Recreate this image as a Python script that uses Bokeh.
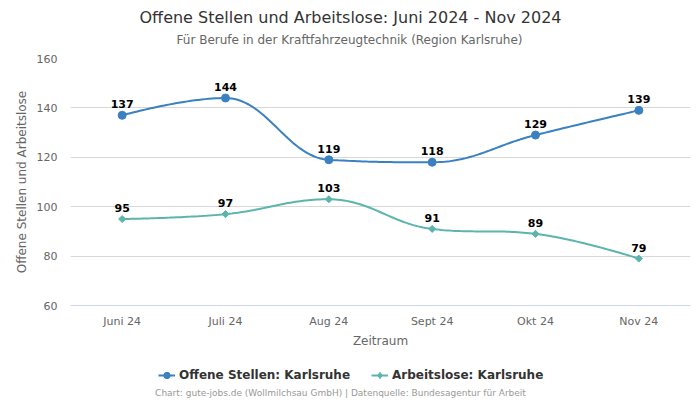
import numpy as np
from bokeh.plotting import figure
from bokeh.layouts import column
from bokeh.models import (ColumnDataSource, LabelSet, Label, Legend, LegendItem,
                          FixedTicker, Range1d)
from bokeh.core.properties import value
from bokeh.embed import file_html
from bokeh.resources import INLINE

# ---- data ----
months = ["Juni 24", "Juli 24", "Aug 24", "Sept 24", "Okt 24", "Nov 24"]
offene_stellen = [137, 144, 119, 118, 129, 139]
arbeitslose = [95, 97, 103, 91, 89, 79]
y_ticks = [60, 80, 100, 120, 140, 160]

title_text = "Offene Stellen und Arbeitslose: Juni 2024 - Nov 2024"
subtitle_text = "Für Berufe in der Kraftfahrzeugtechnik (Region Karlsruhe)"
footer_text = "Chart: gute-jobs.de (Wollmilchsau GmbH) | Datenquelle: Bundesagentur für Arbeit"
series_names = ["Offene Stellen: Karlsruhe", "Arbeitslose: Karlsruhe"]

FONT = "DejaVu Sans"
BLUE = "#3a81c1"
TEAL = "#5bb5ad"
W = 700
FRAME_LEFT = 70   # all frames in the column are aligned to this left edge


def spline_path(xs, ys, smoothing=1.5, n=40):
    """Highcharts-like spline through the points, sampled as a polyline."""
    N = len(xs)
    lc = [None] * N
    rc = [None] * N
    d = smoothing + 1
    for i in range(1, N - 1):
        px, py = xs[i], ys[i]
        lx, ly = xs[i - 1], ys[i - 1]
        nx, ny = xs[i + 1], ys[i + 1]
        lcx = (smoothing * px + lx) / d
        lcy = (smoothing * py + ly) / d
        rcx = (smoothing * px + nx) / d
        rcy = (smoothing * py + ny) / d
        corr = 0.0
        if rcx != lcx:
            corr = ((rcy - lcy) * (rcx - px)) / (rcx - lcx) + py - rcy
        lcy += corr
        rcy += corr
        if lcy > ly and lcy > py:
            lcy = max(ly, py); rcy = 2 * py - lcy
        elif lcy < ly and lcy < py:
            lcy = min(ly, py); rcy = 2 * py - lcy
        if rcy > ny and rcy > py:
            rcy = max(ny, py); lcy = 2 * py - rcy
        elif rcy < ny and rcy < py:
            rcy = min(ny, py); lcy = 2 * py - rcy
        lc[i] = (lcx, lcy)
        rc[i] = (rcx, rcy)
    X, Y = [xs[0]], [ys[0]]
    t = np.linspace(0, 1, n)[1:]
    for i in range(1, N):
        p0 = (xs[i - 1], ys[i - 1])
        p1 = rc[i - 1] if rc[i - 1] else p0
        p3 = (xs[i], ys[i])
        p2 = lc[i] if lc[i] else p3
        for k in range(2):
            v = ((1 - t) ** 3 * p0[k] + 3 * (1 - t) ** 2 * t * p1[k]
                 + 3 * (1 - t) * t ** 2 * p2[k] + t ** 3 * p3[k])
            (X if k == 0 else Y).extend(v.tolist())
    return X, Y


def blank_figure(height):
    f = figure(width=W, height=height, output_backend="svg",
               toolbar_location=None, x_axis_type=None, y_axis_type=None,
               x_range=Range1d(-2, -1), y_range=Range1d(-2, -1),
               min_border=0, min_border_left=0, min_border_right=0,
               min_border_top=0, min_border_bottom=0)
    f.title.visible = False
    f.outline_line_color = None
    f.background_fill_color = "white"
    f.border_fill_color = "white"
    f.grid.visible = False
    return f


# ---------- header (title + subtitle) ----------
head = blank_figure(48)
head.add_layout(Label(x=350 - FRAME_LEFT, y=31, x_units="screen", y_units="screen",
                      text=title_text, text_align="center",
                      text_baseline="middle", text_font=FONT,
                      text_font_size="16px", text_color="#333333"))
head.add_layout(Label(x=349 - FRAME_LEFT, y=9, x_units="screen", y_units="screen",
                      text=subtitle_text, text_align="center",
                      text_baseline="middle", text_font=FONT,
                      text_font_size="12px", text_color="#666666"))

# ---------- main chart ----------
xs = list(range(len(months)))
p = figure(width=W, height=302, output_backend="svg", toolbar_location=None,
           x_range=Range1d(-0.5, len(months) - 0.5),
           y_range=Range1d(y_ticks[0], y_ticks[-1]),
           min_border_left=FRAME_LEFT, min_border_right=10, min_border_top=10,
           min_border_bottom=45)
p.title.visible = False
p.outline_line_color = None
p.background_fill_color = "white"
p.border_fill_color = "white"

p.xaxis.ticker = FixedTicker(ticks=xs)
p.xaxis.major_label_overrides = {i: m for i, m in enumerate(months)}
p.yaxis.ticker = FixedTicker(ticks=y_ticks)
for ax in (p.xaxis[0], p.yaxis[0]):
    ax.major_tick_line_color = None
    ax.minor_tick_line_color = None
    ax.major_tick_out = 0
    ax.major_tick_in = 0
    ax.minor_tick_out = 0
    ax.minor_tick_in = 0
    ax.major_label_text_font = FONT
    ax.major_label_text_font_size = "11px"
    ax.major_label_text_color = "#666666"
    ax.axis_label_text_font = FONT
    ax.axis_label_text_font_size = "12px"
    ax.axis_label_text_color = "#666666"
    ax.axis_label_text_font_style = "normal"
p.xaxis.axis_line_color = "#ccd6eb"
p.yaxis.axis_line_color = None
p.xaxis.axis_label = "Zeitraum"
p.yaxis.axis_label = "Offene Stellen und Arbeitslose"
p.xaxis.major_label_standoff = 9
p.xaxis.axis_label_standoff = 3
p.yaxis.major_label_standoff = 13
p.yaxis.axis_label_standoff = 5
p.xgrid.grid_line_color = None
p.ygrid.grid_line_color = "#d8d8d8"
p.ygrid.grid_line_width = 1

styles = [(offene_stellen, BLUE, "circle"), (arbeitslose, TEAL, "diamond")]
for vals, color, marker in styles:
    sx, sy = spline_path(xs, vals)
    p.line(sx, sy, line_color=color, line_width=2)
    src = ColumnDataSource(dict(x=xs, y=vals, lab=[str(v) for v in vals]))
    if marker == "circle":
        p.scatter("x", "y", source=src, marker="circle", size=8,
                  fill_color=color, line_color=color)
    else:
        p.scatter("x", "y", source=src, marker="square", size=5,
                  angle=np.pi / 4, fill_color=color, line_color=color)
    p.add_layout(LabelSet(x="x", y="y", text="lab", source=src, y_offset=11,
                          text_align="center", text_baseline="middle",
                          text_font=value(FONT), text_font_size=value("11px"),
                          text_font_style="bold", text_color="#000000"))

# ---------- footer (legend + credits) ----------
# legend renderers reuse the series data; the ranges of this strip keep them
# out of view so that only their legend symbols show
foot = blank_figure(50)
items = []
for (vals, color, marker), name in zip(styles, series_names):
    src = ColumnDataSource(dict(x=xs, y=vals))
    lr = foot.line("x", "y", source=src, line_color=color, line_width=2)
    if marker == "circle":
        sr = foot.scatter("x", "y", source=src, marker="circle", size=8,
                          fill_color=color, line_color=color)
    else:
        sr = foot.scatter("x", "y", source=src, marker="diamond", size=9,
                          fill_color=color, line_color=color)
    items.append(LegendItem(label=name, renderers=[lr, sr]))

legend = Legend(items=items, orientation="horizontal",
                location=(158 - FRAME_LEFT, 17),
                spacing=21, padding=0, margin=0, glyph_width=17,
                glyph_height=16, label_standoff=4,
                label_text_font=FONT, label_text_font_size="12px",
                label_text_font_style="bold", label_text_color="#333333",
                border_line_color=None, background_fill_alpha=0)
foot.add_layout(legend, "center")
foot.add_layout(Label(x=340 - FRAME_LEFT, y=8, x_units="screen", y_units="screen",
                      text=footer_text, text_align="center",
                      text_baseline="middle", text_font=FONT,
                      text_font_size="9px", text_color="#999999"))

layout = column(head, p, foot, spacing=0)
open("out.html", "w").write(file_html(layout, INLINE))
